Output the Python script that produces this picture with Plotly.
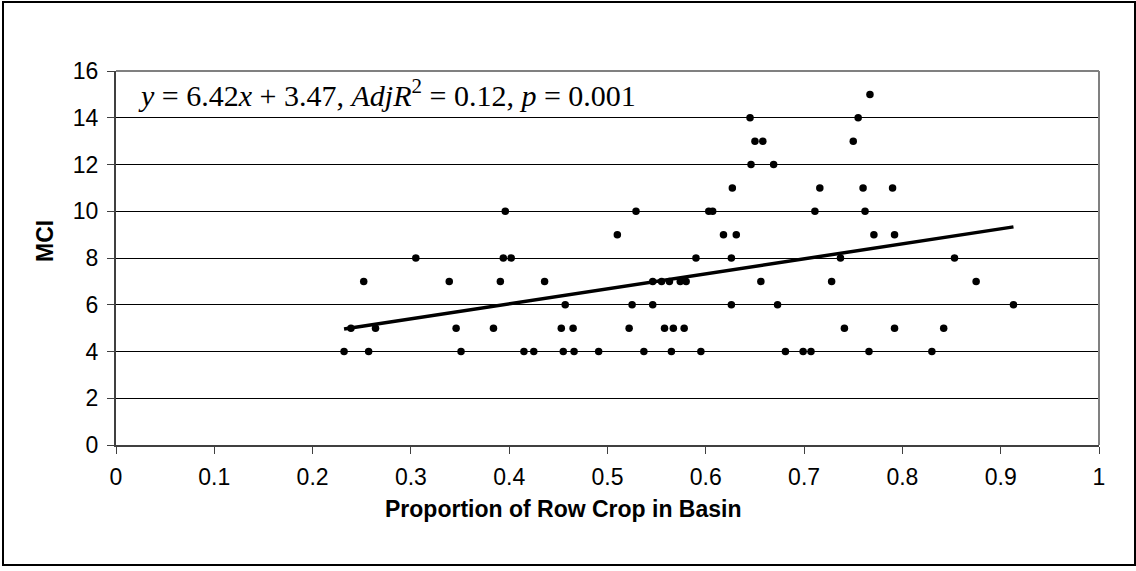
import plotly.graph_objects as go

# MCI score versus proportion of row crop in the basin, grouped by MCI value
mci_levels = [4, 5, 6, 7, 8, 9, 10, 11, 12, 13, 14, 15]
row_crop_by_mci = [
    [0.232, 0.257, 0.351, 0.415, 0.425, 0.455, 0.466, 0.491, 0.537, 0.565, 0.595, 0.681, 0.699, 0.707, 0.766, 0.830],
    [0.239, 0.264, 0.346, 0.384, 0.453, 0.465, 0.522, 0.558, 0.567, 0.578, 0.741, 0.792, 0.842],
    [0.457, 0.525, 0.546, 0.626, 0.673, 0.913],
    [0.252, 0.339, 0.391, 0.436, 0.546, 0.555, 0.563, 0.574, 0.580, 0.656, 0.728, 0.875],
    [0.305, 0.394, 0.402, 0.590, 0.626, 0.737, 0.853],
    [0.510, 0.618, 0.631, 0.771, 0.792],
    [0.396, 0.529, 0.603, 0.607, 0.711, 0.762],
    [0.627, 0.716, 0.760, 0.790],
    [0.646, 0.669],
    [0.650, 0.658, 0.750],
    [0.645, 0.755],
    [0.767],
]

# Fitted regression
slope = 6.42
intercept = 3.47
adj_r2 = 0.12
p_value = 0.001

x_ticks = [0, 0.1, 0.2, 0.3, 0.4, 0.5, 0.6, 0.7, 0.8, 0.9, 1]
x_tick_text = ["0", "0.1", "0.2", "0.3", "0.4", "0.5", "0.6", "0.7", "0.8", "0.9", "1"]
y_ticks = [0, 2, 4, 6, 8, 10, 12, 14, 16]

xs, ys = [], []
for level, group in zip(mci_levels, row_crop_by_mci):
    xs.extend(group)
    ys.extend([level] * len(group))

x_fit = [min(xs), max(xs)]
y_fit = [slope * v + intercept for v in x_fit]

W, H = 1136, 571
ML, MR, MT, MB = 116, 37, 71, 126
PW, PH = W - ML - MR, H - MT - MB


def px_x(p):
    return (p - ML) / PW


def px_y(p):
    return (MT + PH - p) / PH


fig = go.Figure()
fig.add_trace(go.Scatter(x=xs, y=ys, mode="markers",
                         marker=dict(color="black", size=7.5), showlegend=False))
fig.add_trace(go.Scatter(x=x_fit, y=y_fit, mode="lines",
                         line=dict(color="black", width=3.5), showlegend=False))

tick_font = dict(family="Liberation Sans, Arial", size=23, color="black")
title_font = dict(family="Liberation Sans, Arial", size=23, color="black")

fig.update_layout(
    width=W, height=H,
    margin=dict(l=ML, r=MR, t=MT, b=MB),
    paper_bgcolor="white", plot_bgcolor="white",
    xaxis=dict(range=[0, 1], tickvals=x_ticks, ticktext=x_tick_text,
               showgrid=False, zeroline=False, showline=True,
               linecolor="#404040", linewidth=2,
               ticks="outside", ticklen=7, tickcolor="#404040", tickwidth=1,
               tickfont=tick_font, ticklabelstandoff=3),
    yaxis=dict(range=[0, 16], tickvals=y_ticks,
               showgrid=True, gridcolor="black", gridwidth=1,
               zeroline=False, showline=True,
               linecolor="#404040", linewidth=2,
               ticks="outside", ticklen=7, tickcolor="#404040", tickwidth=1,
               tickfont=tick_font, ticklabelstandoff=4),
    shapes=[
        # plot-area border on top and right
        dict(type="line", xref="paper", yref="paper", x0=0, x1=1, y0=1, y1=1,
             line=dict(color="#808080", width=2)),
        dict(type="line", xref="paper", yref="paper", x0=1, x1=1, y0=0, y1=1,
             line=dict(color="#808080", width=2)),
        # outer chart frame
        dict(type="rect", xref="paper", yref="paper",
             x0=px_x(3), x1=px_x(1135), y0=px_y(565), y1=px_y(2),
             line=dict(color="black", width=2), fillcolor="rgba(0,0,0,0)"),
    ],
    annotations=[
        dict(text="<b>Proportion of Row Crop in Basin</b>", xref="paper", yref="paper",
             x=px_x(563), y=px_y(509), showarrow=False, font=title_font,
             xanchor="center", yanchor="middle"),
        dict(text="<b>MCI</b>", xref="paper", yref="paper",
             x=px_x(45), y=px_y(241), textangle=-90,
             showarrow=False, font=title_font, xanchor="center", yanchor="middle"),
        dict(text=f"<i>y</i> = {slope:.2f}<i>x</i> + {intercept:.2f}, "
                  f"<i>AdjR</i><sup>2</sup> = {adj_r2:.2f}, <i>p</i> = {p_value:.3f}",
             xref="paper", yref="paper",
             x=px_x(136), y=px_y(93),
             showarrow=False, xanchor="left", yanchor="middle",
             font=dict(family="Liberation Serif, Times New Roman", size=30, color="black")),
    ],
)

fig.write_html("out.html")
